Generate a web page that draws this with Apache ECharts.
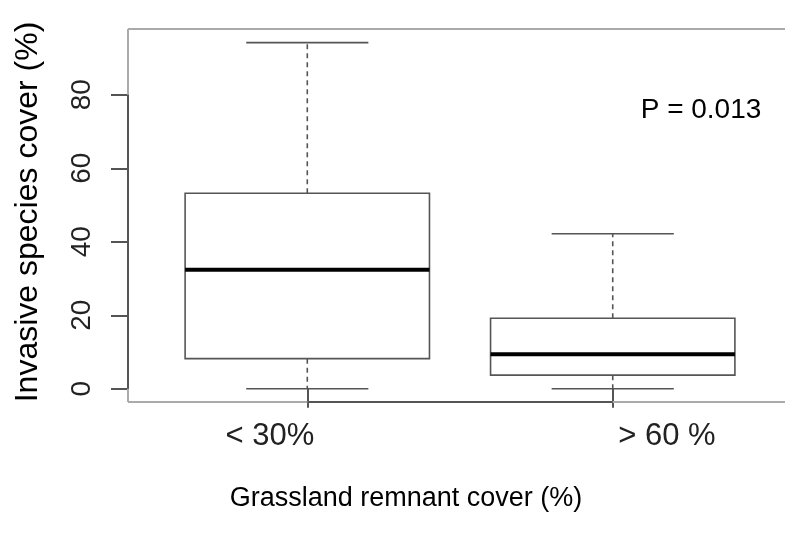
<!DOCTYPE html>
<html>
<head>
<meta charset="utf-8">
<script src="https://cdn.jsdelivr.net/npm/echarts@6/dist/echarts.min.js"></script>
<style>
  html, body { margin: 0; padding: 0; background: #fff; }
  #chart { width: 785px; height: 546px; }
</style>
</head>
<body>
<div id="chart"></div>
<script>
// group labels and box statistics (min, q1, median, q3, max)
const groups = ['< 30%', '> 60 %'];
const whiskerLow = [0, 0];
const q1 = [8.2, 3.7];
const median = [32.4, 9.4];
const q3 = [53.2, 19.2];
const whiskerHigh = [94.2, 42.2];
const yTicks = [0, 20, 40, 60, 80];
const pText = 'P = 0.013';

const FONT = '"Liberation Sans", Arial, sans-serif';
const boxWidth = 0.8;
const capWidth = 0.4;

const boxData = groups.map((g, i) => [i + 1, whiskerLow[i], q1[i], median[i], q3[i], whiskerHigh[i]]);

const chart = echarts.init(document.getElementById('chart'));

function renderBox (params, api) {
  const x = api.value(0);
  const lo = api.value(1), b = api.value(2), m = api.value(3), t = api.value(4), hi = api.value(5);
  const pL = api.coord([x - boxWidth / 2, t]);
  const pR = api.coord([x + boxWidth / 2, b]);
  const cL = api.coord([x - capWidth / 2, 0])[0];
  const cR = api.coord([x + capWidth / 2, 0])[0];
  const cx = api.coord([x, 0])[0];
  const yLo = api.coord([x, lo])[1], yB = pR[1], yM = api.coord([x, m])[1], yT = pL[1], yHi = api.coord([x, hi])[1];
  const grey = { stroke: '#555', lineWidth: 1.6, fill: null };
  return {
    type: 'group',
    children: [
      { type: 'line', shape: { x1: cx, y1: yT, x2: cx, y2: yHi }, style: Object.assign({}, grey, { lineDash: [5, 4] }) },
      { type: 'line', shape: { x1: cx, y1: yB, x2: cx, y2: yLo }, style: Object.assign({}, grey, { lineDash: [5, 4] }) },
      { type: 'line', shape: { x1: cL, y1: yHi, x2: cR, y2: yHi }, style: grey },
      { type: 'line', shape: { x1: cL, y1: yLo, x2: cR, y2: yLo }, style: grey },
      { type: 'rect', shape: { x: pL[0], y: yT, width: pR[0] - pL[0], height: yB - yT }, style: { stroke: '#555', lineWidth: 1.6, fill: '#fff' } },
      { type: 'line', shape: { x1: pL[0], y1: yM, x2: pR[0], y2: yM }, style: { stroke: '#000', lineWidth: 4 } }
    ]
  };
}

// plot frame (right side falls outside the picture) and R-style axis lines
function renderAxes (params, api) {
  if (params.dataIndex !== 0) return;
  const cs = params.coordSys;
  const left = cs.x, top = cs.y, bottom = cs.y + cs.height, right = cs.x + cs.width + 20;
  const xs = [api.coord([1, 0])[0], api.coord([groups.length, 0])[0]];
  const y0 = api.coord([1, yTicks[0]])[1];
  const y1 = api.coord([1, yTicks[yTicks.length - 1]])[1];
  const frame = { stroke: '#aaa', lineWidth: 2 };
  const st = { stroke: '#555', lineWidth: 2 };
  return {
    type: 'group',
    children: [
      { type: 'line', shape: { x1: left, y1: top, x2: right, y2: top }, style: frame },
      { type: 'line', shape: { x1: left, y1: bottom, x2: right, y2: bottom }, style: frame },
      { type: 'line', shape: { x1: left, y1: top, x2: left, y2: bottom }, style: frame },
      { type: 'line', shape: { x1: left, y1: y0, x2: left, y2: y1 }, style: st },
      { type: 'line', shape: { x1: xs[0], y1: bottom, x2: xs[1], y2: bottom }, style: st }
    ]
  };
}

chart.setOption({
  animation: false,
  grid: {
    left: 128, top: 29, right: 0, bottom: 144,
    show: false
  },
  xAxis: {
    type: 'value', min: 0.413, max: 2.564,
    splitLine: { show: false },
    axisLine: { show: false },
    axisLabel: { show: false },
    axisTick: {
      show: true, customValues: groups.map((g, i) => i + 1),
      length: 19, lineStyle: { color: '#555', width: 2 }
    }
  },
  yAxis: {
    type: 'value', min: -3.6, max: 97.9,
    splitLine: { show: false },
    axisLine: { show: false },
    axisTick: {
      show: true, customValues: yTicks,
      length: 17, lineStyle: { color: '#555', width: 2 }
    },
    axisLabel: {
      customValues: yTicks, rotate: 90, margin: 32,
      color: '#222', fontSize: 28, fontFamily: FONT
    }
  },
  series: [
    { type: 'custom', renderItem: renderBox, data: boxData, silent: true, z: 3, clip: false },
    { type: 'custom', renderItem: renderAxes, data: boxData, silent: true, z: 4, clip: false }
  ],
  graphic: [
    { type: 'text', x: 28, y: 212, rotation: Math.PI / 2,
      style: { text: 'Invasive species cover (%)', fill: '#000', font: '32px ' + FONT, textAlign: 'center', textVerticalAlign: 'middle' } },
    { type: 'text', x: 270, y: 436,
      style: { text: groups[0], fill: '#222', font: '31px ' + FONT, textAlign: 'center', textVerticalAlign: 'middle' } },
    { type: 'text', x: 667, y: 436,
      style: { text: groups[1], fill: '#222', font: '31px ' + FONT, textAlign: 'center', textVerticalAlign: 'middle' } },
    { type: 'text', x: 406, y: 499,
      style: { text: 'Grassland remnant cover (%)', fill: '#000', font: '27px ' + FONT, textAlign: 'center', textVerticalAlign: 'middle' } },
    { type: 'text', x: 701, y: 110,
      style: { text: pText, fill: '#000', font: '28px ' + FONT, textAlign: 'center', textVerticalAlign: 'middle' } }
  ]
});
</script>
</body>
</html>
